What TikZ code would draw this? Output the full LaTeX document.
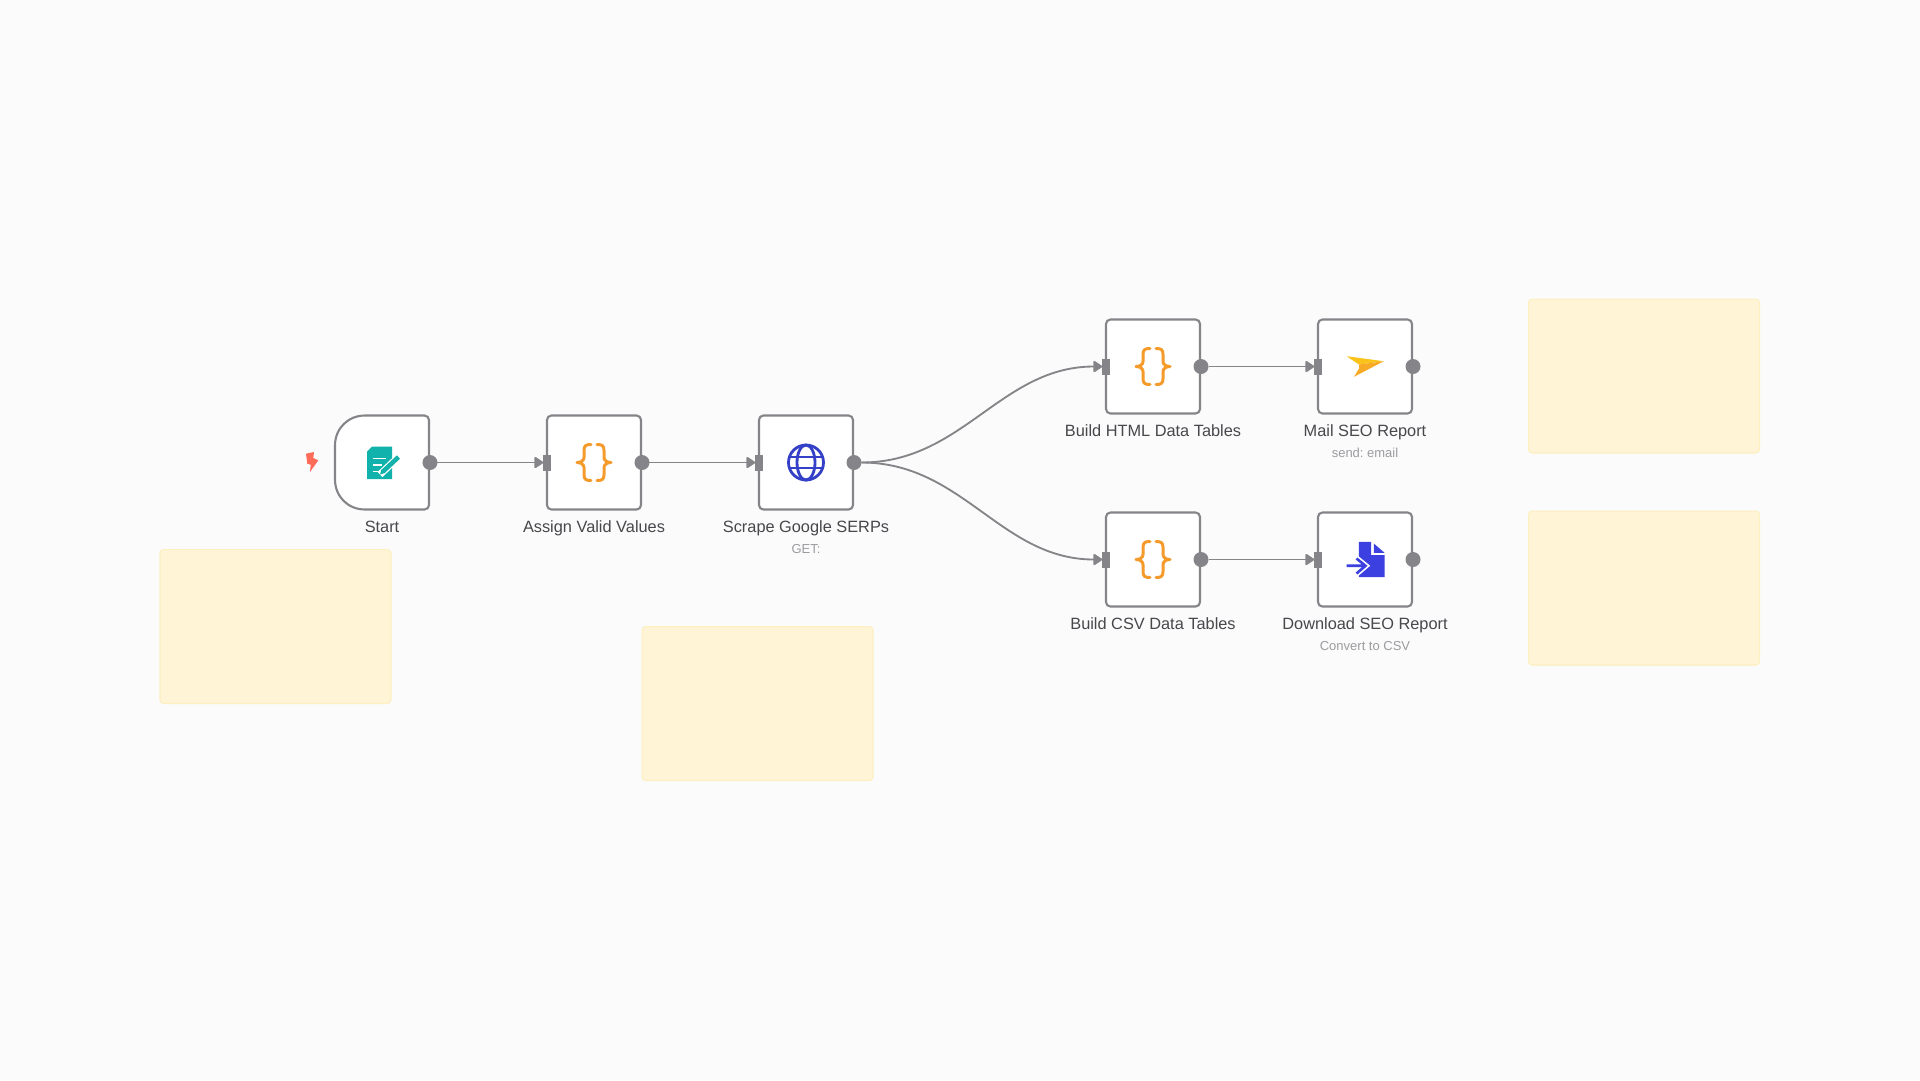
\documentclass[tikz,border=0pt]{standalone}
\usepackage{fontspec}
\setmainfont{Liberation Sans}
\usetikzlibrary{positioning,arrows.meta}
\definecolor{bgcol}{HTML}{FBFBFB}
\definecolor{linecol}{HTML}{858589}
\definecolor{notecol}{HTML}{FFF4D6}
\definecolor{noteline}{HTML}{FDEFC0}
\definecolor{labcol}{HTML}{47474C}
\definecolor{subcol}{HTML}{9C9CA0}
\definecolor{bracecol}{HTML}{F59B2C}
\definecolor{globecol}{HTML}{3540C8}
\definecolor{doccol}{HTML}{3C40E0}
\definecolor{formcol}{HTML}{12B2AC}
\definecolor{boltcol}{HTML}{FF6D5A}

\begin{document}
\frenchspacing
\begin{tikzpicture}[x=0.02cm,y=-0.02cm,
    f/.style={-{Triangle[round,length=5.5pt,width=7pt]},line width=1.05pt,draw=linecol},%
    b/.style={draw=linecol,fill=white,line width=1.2pt,rounded corners=2.5pt,minimum size=1.88cm,inner sep=0pt,outer sep=0pt},%
    o/.style={circle,fill=linecol,minimum size=0.3cm,inner sep=0pt,outer sep=0pt},%
    i/.style={fill=linecol,minimum width=0.15cm,minimum height=0.32cm,inner sep=0pt,outer sep=0pt},%
    n/.style={draw=noteline,fill=notecol,line width=0.6pt,rounded corners=2pt,minimum width=4.62cm,minimum height=3.08cm},%
    t/.style={text=labcol,font=\fontsize{9.3}{11}\selectfont,inner sep=0pt,text height=7pt,text depth=2pt},%
    u/.style={text=subcol,font=\fontsize{7.4}{9}\selectfont,inner sep=0pt,text height=5.5pt,text depth=1.5pt},%
    curly/.pic={\foreach \m in {1,-1}
        \draw[xscale=\m,bracecol,line width=1.7pt,line cap=round,line join=round] (3,-18) .. controls (8,-18) and (10,-17) .. (10,-12) -- (10,-5) .. controls (10,-2) and (13,0) .. (17,0) .. controls (13,0) and (10,2) .. (10,5) -- (10,12) .. controls (10,17) and (8,18) .. (3,18);},
    ]
    \useasboundingbox (0,0) rectangle (1920,1080);
    \fill[bgcol] (0,0) rectangle (1920,1080);
    % notes
    \node[n] (NoteStart) at (275.5,626.5) {};
    \node[n] (NoteSerp) at (757.5,703.5) {};
    \node[n] (NoteMail) at (1644,376) {};
    \node[n] (NoteCsv) at (1644,588) {};
    % boxes
    \node[minimum size=1.88cm,inner sep=0pt,outer sep=0pt] (Start) at (382,462.5) {};
    \draw[shift={(Start)},draw=linecol,fill=white,line width=1.2pt] (-47,-17) .. controls (-47,-34) and (-34,-47) .. (-17,-47) -- (42.5,-47) .. controls (45,-47) and (47,-45) .. (47,-42.5) -- (47,42.5) .. controls (47,45) and (45,47) .. (42.5,47) -- (-17,47) .. controls (-34,47) and (-47,34) .. (-47,17) -- cycle;
    \node[b] (Assign) at (594,462.5) {};
    \node[b] (Scrape) at (806,462.5) {};
    \node[b] (Html) at (1153,366.5) {};
    \node[b] (Mail) at (1365,366.5) {};
    \node[b] (Csv) at (1153,559.5) {};
    \node[b] (Download) at (1365,559.5) {};
    % labels
    \node[t,below=0.2cm of Start] (StartLab) {Start};
    \node[t,below=0.2cm of Assign] (AssignLab) {Assign Valid Values};
    \node[t,below=0.2cm of Scrape] (ScrapeLab) {Scrape Google SERPs};
    \node[u,below=0.15cm of ScrapeLab] (ScrapeSub) {GET:};
    \node[t,below=0.2cm of Html] (HtmlLab) {Build HTML Data Tables};
    \node[t,below=0.2cm of Mail] (MailLab) {Mail SEO Report};
    \node[u,below=0.15cm of MailLab] (MailSub) {send: email};
    \node[t,below=0.2cm of Csv] (CsvLab) {Build CSV Data Tables};
    \node[t,below=0.2cm of Download] (DownloadLab) {Download SEO Report};
    \node[u,below=0.15cm of DownloadLab] (DownloadSub) {Convert to CSV};
    % ports
    \foreach \a in {Start,Assign,Scrape,Html,Mail,Csv,Download}
        \node[o] (\a Out) at ([xshift=0.02cm]\a.east) {};
    \foreach \a in {Assign,Scrape,Html,Mail,Csv,Download}
        \node[i] (\a In) at (\a.west) {};
    % connectors
    \draw[f] (StartOut) -- (AssignIn);
    \draw[f] (AssignOut) -- (ScrapeIn);
    \draw[f] (ScrapeOut) to[out=0,in=180] (HtmlIn);
    \draw[f] (ScrapeOut) to[out=0,in=180] (CsvIn);
    \draw[f] (HtmlOut) -- (MailIn);
    \draw[f] (CsvOut) -- (DownloadIn);
    % icons
    \pic at (Assign) {curly};
    \pic at (Html) {curly};
    \pic at (Csv) {curly};
    \fill[boltcol] (312,462) ++(-6,-8.3) -- ++(8,-1.7) -- ++(-0.7,6) -- ++(5,2.3) -- ++(-8.3,11.7) -- ++(0.7,-7.3) -- ++(-3.4,-1) -- cycle;
    \begin{scope}[shift={(Start)}]
        \fill[formcol] (-15,-11) -- (-10,-16) -- (10,-16) -- (10,16.5) -- (-15,16.5) -- cycle;
        \draw[white,line width=0.8pt] (-9,-4) -- (3.5,-4) (-9,2.5) -- (0,2.5) (-9,9) -- (-3,9);
        \draw[white,line width=4pt] (-2,12) -- (17,-6);
        \draw[formcol,line width=2.6pt] (1,9) -- (16.5,-5.5);
        \fill[formcol] (-2,12) -- (-0.5,6.8) -- (3,10.5) -- cycle;
    \end{scope}
    \begin{scope}[shift={(Scrape)},globecol,line width=1.6pt]
        \draw (0,0) circle [radius=17.5];
        \draw (0,0) ellipse [x radius=9,y radius=17.5];
        \draw (-16.5,-5.5) -- (16.5,-5.5) (-16.5,5.5) -- (16.5,5.5);
    \end{scope}
    \begin{scope}[shift={(Mail)}]
        \fill[color=bracecol!60!yellow] (-18.5,-10.3) -- (18.8,-5.3) -- (-6,-2) -- cycle;
        \fill[color=bracecol!85!yellow] (-6,-2) -- (18.8,-5.3) -- (-11,10.3) -- (-6,2) -- cycle;
    \end{scope}
    \begin{scope}[shift={(Download)}]
        \fill[doccol] (-6.2,-17.7) -- (6.2,-17.7) -- (6.2,-4.3) -- (19.5,-4.3) -- (19.5,17.7) -- (-6.2,17.7) -- cycle;
        \fill[doccol] (8.8,-16) -- (19.5,-6.7) -- (8.8,-6.7) -- cycle;
        \draw[white,line width=3.4pt] (-8.5,-1) -- (0.5,6.3) -- (-8.5,14);
        \draw[doccol,line width=1.5pt] (-18.5,6.3) -- (-1,6.3) (-8.5,-1) -- (0.5,6.3) -- (-8.5,14);
    \end{scope}
\end{tikzpicture}
\end{document}
